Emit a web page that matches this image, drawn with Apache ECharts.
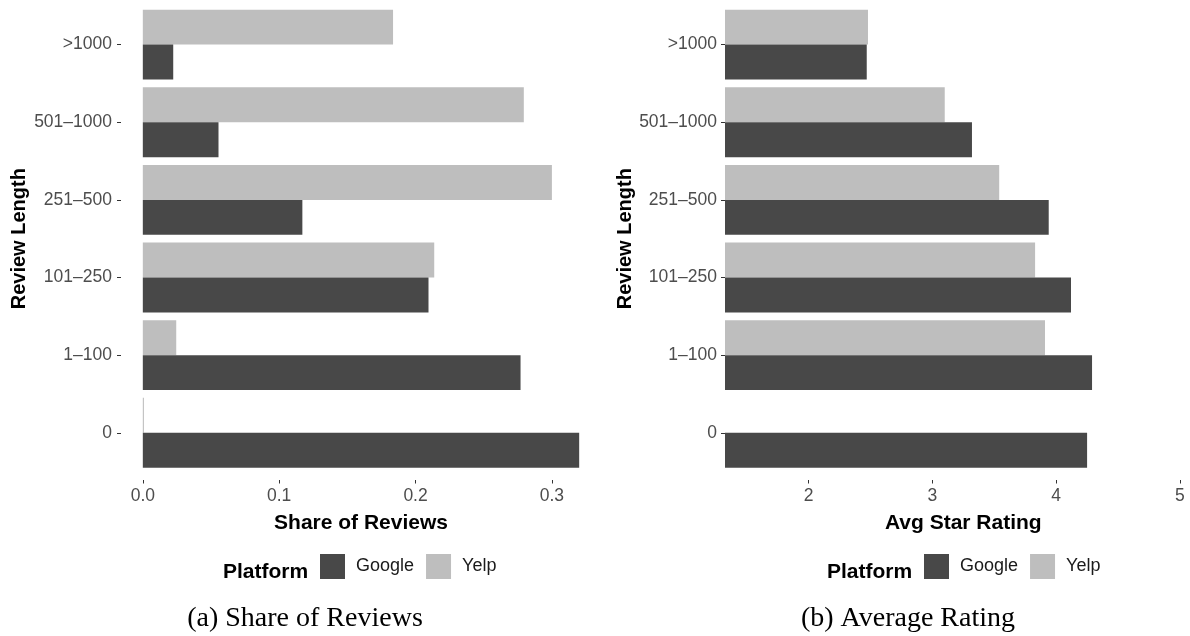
<!DOCTYPE html>
<html>
<head>
<meta charset="utf-8">
<script src="https://cdn.jsdelivr.net/npm/echarts@6/dist/echarts.min.js"></script>
<style>
html,body{margin:0;padding:0;background:#fff;}
#chart{width:1190px;height:636px;}
</style>
</head>
<body>
<div id="chart"></div>
<script>
const categories = ['0', '1–100', '101–250', '251–500', '501–1000', '>1000'];
const googleShare = [0.320, 0.277, 0.2095, 0.117, 0.0555, 0.0223];
const yelpShare = [0.0008, 0.0245, 0.2137, 0.300, 0.2794, 0.1835];
const googleRating = [4.25, 4.29, 4.12, 3.94, 3.32, 2.47];
const yelpRating = [null, 3.91, 3.83, 3.54, 3.10, 2.48];
const shareTicks = [0, 0.1, 0.2, 0.3];
const ratingTicks = [2, 3, 4, 5];
const platforms = ['Google', 'Yelp'];
const captions = ['(a) Share of Reviews', '(b) Average Rating'];

const DARK = '#484848', LIGHT = '#bebebe';
const tickLabelColor = '#4d4d4d';
const FONT = '"Liberation Sans", Arial, sans-serif';

const chart = echarts.init(document.getElementById('chart'));

function yAxisCfg(idx, gap, margin) {
  return {
    type: 'category', gridIndex: idx, data: categories,
    axisLine: {show: false, onZero: false},
    axisTick: {show: true, alignWithLabel: true, length: 4, lineStyle: {color: '#333', width: 1}},
    axisLabel: {color: tickLabelColor, fontSize: 17.5, fontFamily: FONT, margin: margin},
    splitLine: {show: false},
    name: 'Review Length', nameLocation: 'middle', nameGap: gap, nameRotate: 90,
    nameTextStyle: {fontSize: 20, fontWeight: 'bold', color: '#000', fontFamily: FONT}
  };
}
function xAxisCfg(idx, min, max, ticks, fmt, title) {
  return {
    type: 'value', gridIndex: idx, min: min, max: max, offset: 8.4,
    axisLine: {show: false, onZero: false},
    axisTick: {show: true, customValues: ticks, length: 3.5, lineStyle: {color: '#333', width: 1}},
    axisLabel: {customValues: ticks, formatter: fmt, color: tickLabelColor, fontSize: 17.5, fontFamily: FONT, margin: 7},
    splitLine: {show: false},
    name: title, nameLocation: 'middle', nameGap: 33,
    nameTextStyle: {fontSize: 21, fontWeight: 'bold', color: '#000', fontFamily: FONT}
  };
}
function barSeries(name, data, idx, color) {
  return {
    type: 'bar', name: name, data: data, xAxisIndex: idx, yAxisIndex: idx,
    barGap: '0%', barCategoryGap: '10%', itemStyle: {color: color}, silent: true
  };
}
function legendCfg(left) {
  return {left: left, top: 554, padding: 0, itemWidth: 25, itemHeight: 25, itemGap: 12, icon: 'rect',
    data: platforms, selectedMode: false,
    textStyle: {fontSize: 18, color: '#1a1a1a', fontFamily: FONT, padding: [1, 0, 0, 6]}};
}

chart.setOption({
  animation: false,
  grid: [
    {left: 121, width: 480, top: 5.8, height: 465.8, outerBoundsMode: 'none'},
    {left: 725, width: 476.6, top: 5.8, height: 465.8, outerBoundsMode: 'none'}
  ],
  xAxis: [
    xAxisCfg(0, -0.016, 0.336, shareTicks, v => v.toFixed(1), 'Share of Reviews'),
    xAxisCfg(1, 1.325, 5.175, ratingTicks, v => String(v), 'Avg Star Rating')
  ],
  yAxis: [yAxisCfg(0, 92, 9), yAxisCfg(1, 85, 8)],
  legend: [legendCfg(320), legendCfg(924)],
  series: [
    barSeries(platforms[1], yelpShare, 0, LIGHT),
    barSeries(platforms[0], googleShare, 0, DARK),
    barSeries(platforms[1], yelpRating, 1, LIGHT),
    barSeries(platforms[0], googleRating, 1, DARK)
  ],
  graphic: [
    {type: 'text', x: 223, y: 572, style: {text: 'Platform', fill: '#000', font: 'bold 21px ' + FONT, textVerticalAlign: 'middle'}},
    {type: 'text', x: 827, y: 572, style: {text: 'Platform', fill: '#000', font: 'bold 21px ' + FONT, textVerticalAlign: 'middle'}},
    {type: 'text', x: 305, y: 619, style: {text: captions[0], font: '28px "Liberation Serif", serif', fill: '#000', textAlign: 'center', textVerticalAlign: 'middle'}},
    {type: 'text', x: 908, y: 619, style: {text: captions[1], font: '28px "Liberation Serif", serif', fill: '#000', textAlign: 'center', textVerticalAlign: 'middle'}}
  ]
});
</script>
</body>
</html>
